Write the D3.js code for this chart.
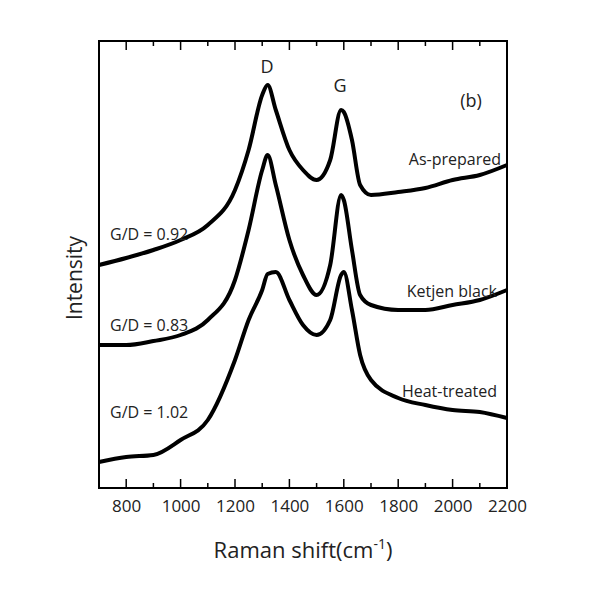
<!DOCTYPE html><html><head><meta charset="utf-8"><script src="https://cdn.jsdelivr.net/npm/d3@7"></script>
<style>body{margin:0;background:#fff}text{font-family:"Open Sans",sans-serif;fill:#222}</style></head><body><svg id="c" width="601" height="601"></svg>
<script>
const shifts=[700,800,900,1000,1100,1200,1250,1300,1320,1350,1400,1450,1500,1550,1590,1600,1630,1660,1700,1800,1900,2000,2100,2200];
const asPrepared=[223,230,238,248,263,298,338,393,403,378,338,318,308,328,378,376,348,303,293,296,300,308,313,323];
const ketjen=[143,143,147,153,168,208,258,318,333,303,248,213,193,223,293,288,238,193,183,178,178,183,188,198];
const heat=[26,31,33,48,68,128,168,198,214,216,188,163,153,168,213,216,178,133,108,90,83,78,76,70];
const xTicks=[800,1000,1200,1400,1600,1800,2000,2200];
const svg=d3.select("#c");
const L=99,R=507,T=41,B=488;
const x=d3.scaleLinear().domain([700,2200]).range([L,R]);
const y=d3.scaleLinear().domain([0,447]).range([B,T]);
const line=d3.line().x((d,i)=>x(shifts[i])).y(d=>y(d)).curve(d3.curveMonotoneX);
[asPrepared,ketjen,heat].forEach(s=>svg.append("path").attr("d",line(s)).attr("fill","none").attr("stroke","#000").attr("stroke-width",4).attr("stroke-linejoin","round"));
svg.append("rect").attr("x",L).attr("y",T).attr("width",R-L).attr("height",B-T).attr("fill","none").attr("stroke","#000").attr("stroke-width",2);
const minor=d3.range(800,2200,100);
minor.forEach(v=>{const len=v%200===0?9:5;
 svg.append("line").attr("x1",x(v)).attr("x2",x(v)).attr("y1",B).attr("y2",B-len).attr("stroke","#000").attr("stroke-width",1.5);
 svg.append("line").attr("x1",x(v)).attr("x2",x(v)).attr("y1",T).attr("y2",T+len).attr("stroke","#000").attr("stroke-width",1.5);});
const ax=svg.append("g").attr("transform",`translate(0,${B})`).call(d3.axisBottom(x).tickValues(xTicks).tickSize(0).tickPadding(12).tickFormat(d3.format("d")));
ax.select(".domain").remove();ax.selectAll("text").attr("font-size",17).attr("font-family","Open Sans").attr("fill","#444");
const t=(s,X,Y,sz,a)=>svg.append("text").attr("x",X).attr("y",Y).attr("font-size",sz).attr("text-anchor",a||"start").text(s);
t("D",267,73,18,"middle");t("G",340,92,18,"middle");t("(b)",471,107,18,"middle");
t("As-prepared",501,165,16,"end");t("Ketjen black",497,297,16,"end");t("Heat-treated",497,397,16,"end");
t("G/D = 0.92",110,240,16);t("G/D = 0.83",110,331,16);t("G/D = 1.02",110,418,16);
svg.append("text").attr("transform","translate(82,278) rotate(-90)").attr("font-size",21).attr("text-anchor","middle").text("Intensity");
const xl=svg.append("text").attr("x",303).attr("y",558).attr("font-size",22).attr("text-anchor","middle");
xl.append("tspan").text("Raman shift(cm");xl.append("tspan").attr("dy",-9).attr("font-size",14).text("-1");xl.append("tspan").attr("dy",9).text(")");
</script></body></html>
